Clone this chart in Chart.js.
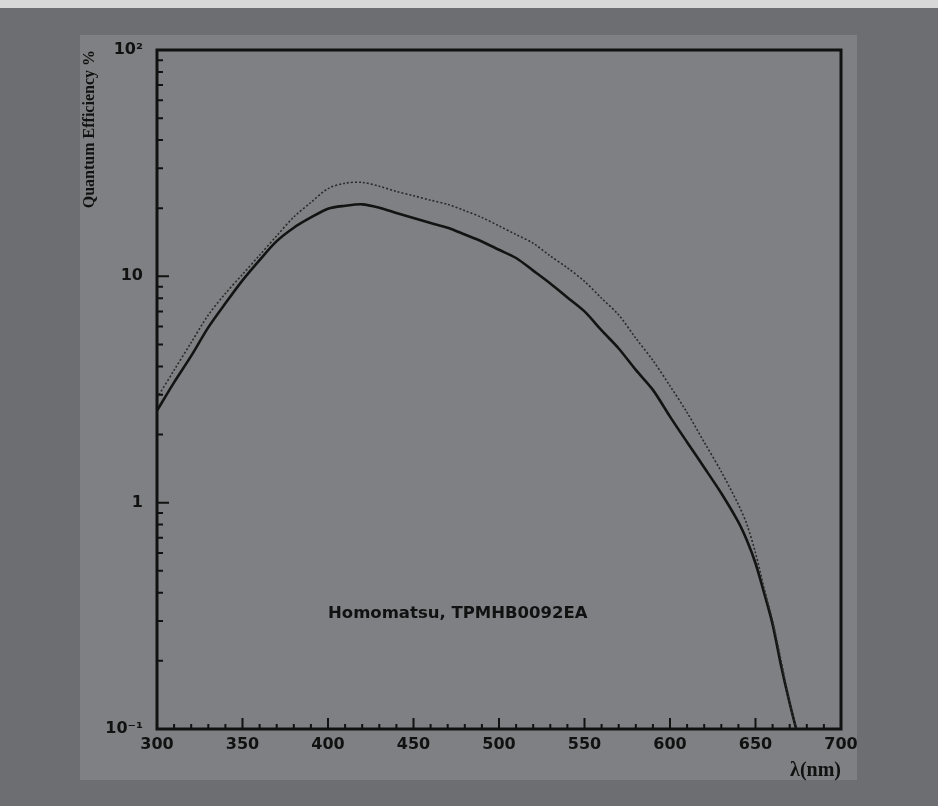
<!DOCTYPE html>
<html>
<head>
<meta charset="utf-8">
<script src="https://cdn.jsdelivr.net/npm/chart.js@4.4.1/dist/chart.umd.min.js"></script>
<style>
  html, body { margin: 0; padding: 0; background: #6d6e71; }
  canvas { display: block; }
</style>
</head>
<body>
<canvas id="chart" width="938" height="806"></canvas>
<script>
// wavelength (nm) and quantum efficiency (%)
const wavelengths = [300, 310, 320, 330, 340, 350, 360, 370, 380, 390, 400, 410, 420, 430, 440, 450, 460, 470, 480, 490,
  500, 510, 520, 530, 540, 550, 560, 570, 580, 590, 600, 610, 620, 630, 640, 645, 650, 655, 660, 665, 670, 675];
const qeSolid = [2.55, 3.4, 4.45, 5.95, 7.6, 9.6, 11.8, 14.3, 16.4, 18.2, 19.9, 20.5, 20.8, 20.1, 19.05, 18.1, 17.2, 16.4, 15.3, 14.25,
  13.1, 12.05, 10.6, 9.3, 8.07, 7.0, 5.77, 4.8, 3.86, 3.15, 2.4, 1.85, 1.43, 1.1, 0.82, 0.68, 0.54, 0.4, 0.29, 0.19, 0.13, 0.092];
const qeDotted = [2.9, 3.85, 5.1, 6.75, 8.4, 10.2, 12.4, 15.1, 18.3, 21.2, 24.4, 25.8, 26.0, 25.0, 23.7, 22.7, 21.7, 20.8, 19.5, 18.2,
  16.7, 15.3, 14.0, 12.3, 10.9, 9.5, 8.0, 6.75, 5.33, 4.25, 3.28, 2.5, 1.85, 1.37, 0.98, 0.8, 0.6, 0.42, 0.3, 0.2, 0.13, 0.092];

const xTicks = [300, 350, 400, 450, 500, 550, 600, 650, 700];
const yTicks = [0.1, 1, 10, 100];
const yTickLabels = ['10⁻¹', '1', '10', '10²'];
const noteText = 'Homomatsu, TPMHB0092EA';

const ink = '#111111';

const framePlugin = {
  id: 'frame',
  beforeDraw(chart) {
    const c = chart.ctx;
    c.save();
    c.fillStyle = '#6d6e71';
    c.fillRect(0, 0, chart.width, chart.height);
    c.fillStyle = '#d8d8d8';
    c.fillRect(0, 0, chart.width, 8);
    c.fillStyle = '#7f8083';
    c.fillRect(80, 35, 777, 745);
    c.restore();
  },
  afterDatasetsDraw(chart) {
    const { ctx: c, chartArea: a, scales: { x, y } } = chart;
    c.save();
    c.strokeStyle = ink;

    // ticks pointing into the plot
    c.lineWidth = 2;
    c.beginPath();
    for (let v = 310; v < 700; v += 10) {
      const px = x.getPixelForValue(v);
      const len = v % 50 === 0 ? 11 : 5;
      c.moveTo(px, a.bottom);
      c.lineTo(px, a.bottom - len);
    }
    [0.1, 1, 10].forEach(dec => {
      for (let m = 1; m <= 9; m++) {
        if (dec === 0.1 && m === 1) continue;
        const py = y.getPixelForValue(dec * m);
        const len = m === 1 ? 12 : 6;
        c.moveTo(a.left, py);
        c.lineTo(a.left + len, py);
      }
    });
    c.stroke();

    c.lineWidth = 3;
    c.strokeRect(a.left, a.top, a.right - a.left, a.bottom - a.top);

    c.fillStyle = ink;
    c.font = 'bold 16.5px "DejaVu Sans"';
    c.textAlign = 'left';
    c.textBaseline = 'middle';
    c.fillText(noteText, x.getPixelForValue(400), y.getPixelForValue(0.322));
    c.restore();
  }
};

new Chart(document.getElementById('chart'), {
  type: 'line',
  data: {
    datasets: [
      {
        label: 'dotted',
        data: wavelengths.map((w, i) => ({ x: w, y: qeDotted[i] })),
        borderColor: '#2a2a2a',
        borderWidth: 1.6,
        borderDash: [2, 2],
        pointRadius: 0,
        tension: 0.3
      },
      {
        label: 'solid',
        data: wavelengths.map((w, i) => ({ x: w, y: qeSolid[i] })),
        borderColor: '#131313',
        borderWidth: 2.6,
        pointRadius: 0,
        tension: 0.3
      }
    ]
  },
  options: {
    responsive: false,
    animation: false,
    devicePixelRatio: 1,
    layout: { padding: { left: 78, top: 50, right: 97, bottom: 20 } },
    plugins: { legend: { display: false }, tooltip: { enabled: false } },
    scales: {
      x: {
        type: 'linear',
        min: 300,
        max: 700,
        afterBuildTicks: s => { s.ticks = xTicks.map(v => ({ value: v })); },
        afterFit: s => { s.height = 57; },
        grid: { display: false, drawTicks: false },
        border: { display: false },
        ticks: {
          padding: 6,
          autoSkip: false,
          maxRotation: 0,
          color: ink,
          font: { family: 'DejaVu Sans', weight: 'bold', size: 16 }
        },
        title: {
          display: true,
          text: 'λ(nm)',
          align: 'end',
          color: ink,
          font: { family: 'Liberation Serif', weight: 'bold', size: 20 },
          padding: { top: 0, bottom: 3 }
        }
      },
      y: {
        type: 'logarithmic',
        min: 0.1,
        max: 100,
        afterBuildTicks: s => { s.ticks = yTicks.map(v => ({ value: v })); },
        afterFit: s => { s.width = 79; },
        grid: { display: false, drawTicks: false },
        border: { display: false },
        ticks: {
          padding: 14,
          color: ink,
          font: { family: 'DejaVu Sans', weight: 'bold', size: 16 },
          callback: v => yTickLabels[yTicks.indexOf(v)]
        },
        title: {
          display: true,
          text: 'Quantum Efficiency %',
          align: 'end',
          color: ink,
          font: { family: 'Liberation Serif', weight: 'bold', size: 16 },
          padding: { top: 2, bottom: 0 }
        }
      }
    }
  },
  plugins: [framePlugin]
});
</script>
</body>
</html>
